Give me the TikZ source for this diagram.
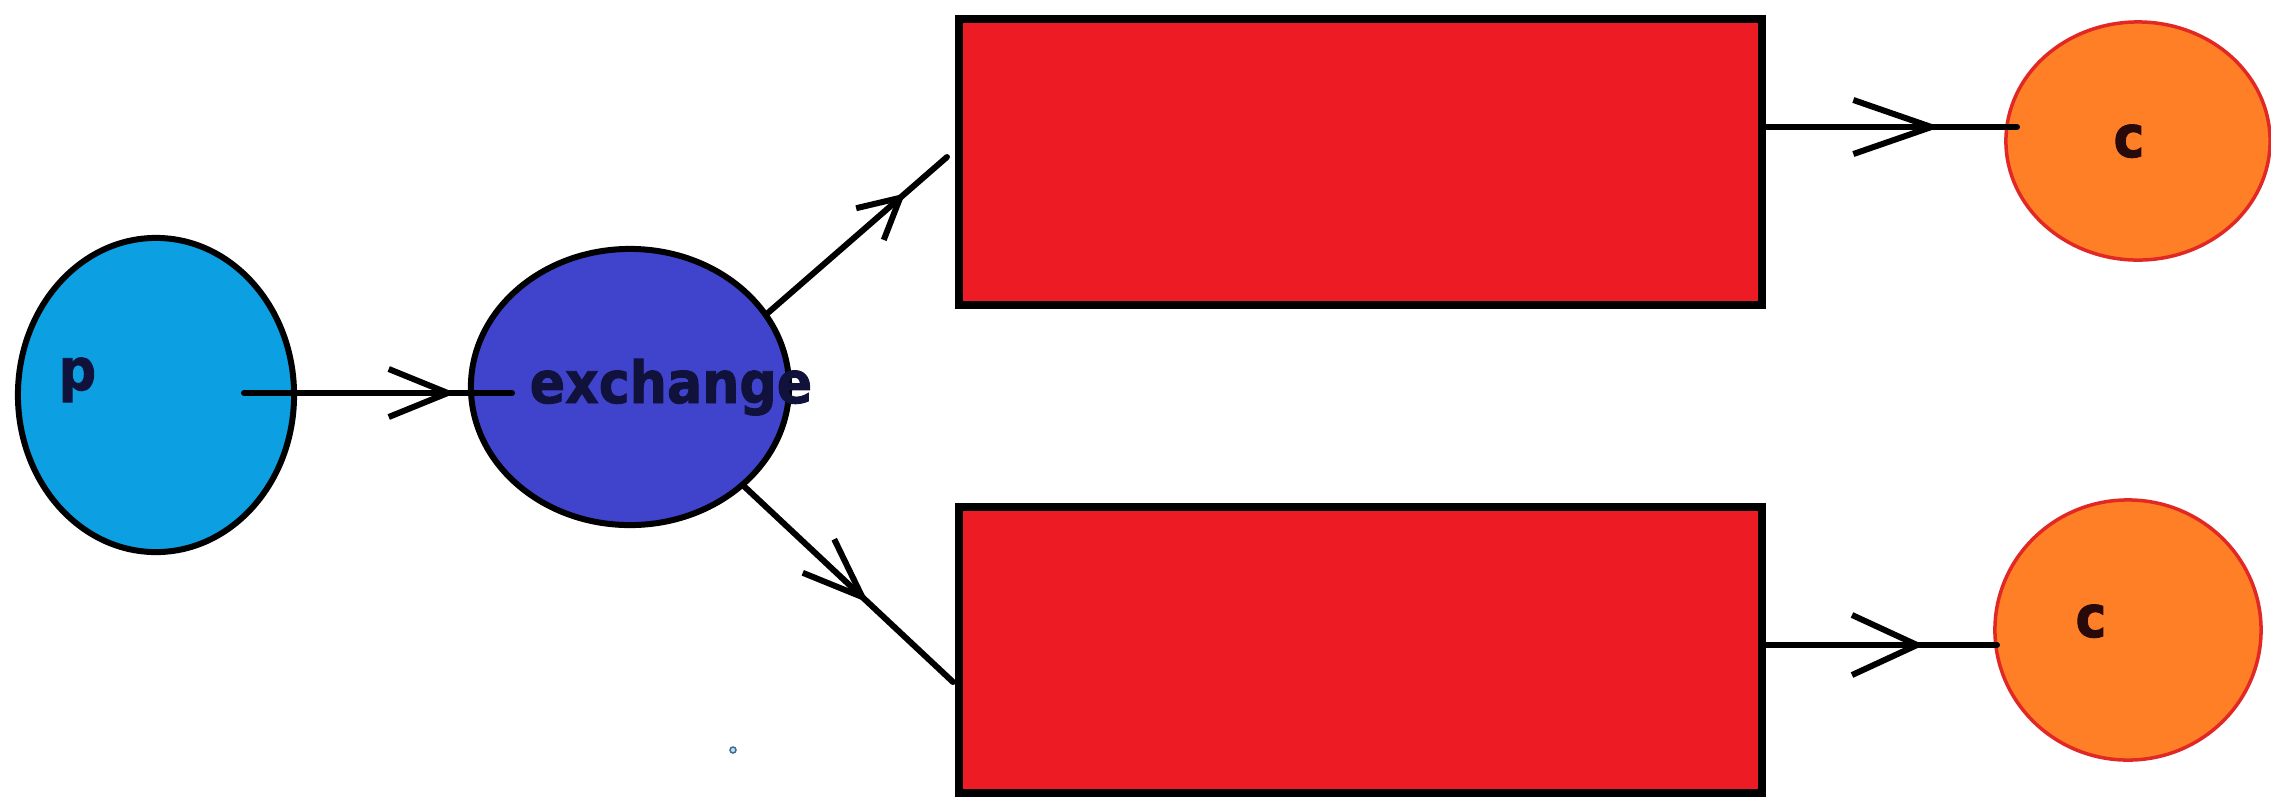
\documentclass[tikz,border=0pt]{standalone}
\usepackage{fontspec}
\setmainfont{DejaVu Sans}
\newfontfamily\lblfont[FakeStretch=0.9,FakeBold=1.6]{DejaVu Sans}
\usetikzlibrary{shapes.geometric,arrows.meta,decorations.markings}
\definecolor{pblue}{RGB}{12,160,226}
\definecolor{exblue}{RGB}{64,68,204}
\definecolor{qred}{RGB}{237,28,36}
\definecolor{corange}{RGB}{255,127,39}
\definecolor{cborder}{RGB}{226,40,36}
\definecolor{navytext}{RGB}{16,18,60}
\definecolor{ctext}{RGB}{40,10,10}
\definecolor{dotblue}{RGB}{60,110,150}
\definecolor{dotfill}{RGB}{190,225,240}
\begin{document}
\begin{tikzpicture}[x=0.01cm,y=-0.01cm,
  ell/.style={ellipse, inner sep=0pt, outer sep=0pt},
  lbl/.style={font=\lblfont\bfseries\fontsize{16.5}{19}\selectfont, inner sep=0pt},
  queuebox/.style={draw=black, line width=0.8mm, fill=qred, minimum width=8.03cm, minimum height=2.86cm, inner sep=0pt, outer sep=0pt},
  flow/.style n args={3}{draw=black, line width=0.6mm, line cap=round, postaction={decorate},
    decoration={markings, mark=at position #1 with {\arrow[line width=0.6mm, line cap=round, line join=round]{Straight Barb[length=#2,width=#3]}}}}
]
\useasboundingbox (0,0) rectangle (2271,796);
\fill[white] (0,0) rectangle (2271,796);

% shapes
\node[ell, draw=black, line width=0.6mm, fill=pblue, minimum width=2.76cm, minimum height=3.14cm] (p) at (156,395) {};
\node[ell, draw=black, line width=0.6mm, fill=exblue, minimum width=3.18cm, minimum height=2.76cm] (ex) at (630,387) {};
\node[queuebox] (q1) at (1360.5,162) {};
\node[queuebox] (q2) at (1360.5,650) {};
\node[ell, draw=cborder, line width=0.35mm, fill=corange, minimum width=2.64cm, minimum height=2.38cm] (c1) at (2138,141) {};
\node[ell, draw=cborder, line width=0.35mm, fill=corange, minimum width=2.66cm, minimum height=2.60cm] (c2) at (2128,630) {};
\node[circle, draw=dotblue, fill=dotfill, line width=0.15mm, inner sep=0pt, minimum size=0.6mm] (dot) at (733,750) {};

% connector end points
\coordinate (pa) at (244,393);
\coordinate (pb) at (512,393);
\coordinate (t1) at (947,157);
\coordinate (t2) at (953,682);
\coordinate (c1a) at (2017,127);
\coordinate (c2a) at (1997,645);

% connectors
\draw[flow={0.79}{5.9mm}{4.8mm}] (pa) -- (pb);
\draw[flow={0.77}{4mm}{4.2mm}] (ex.28) -- (t1);
\draw[flow={0.60}{6mm}{4.6mm}] (ex.-41) -- (t2);
\draw[flow={0.70}{7.8mm}{5.4mm}] (q1.east |- c1a) -- (c1a);
\draw[flow={0.69}{6.5mm}{6mm}] (q2.east |- c2a) -- (c2a);

% labels
\node[lbl, text=navytext, anchor=base west] (plbl) at (58,390) {p};
\node[lbl, text=navytext, anchor=base west] (exlbl) at (529,403) {exchange};
\node[lbl, text=ctext, anchor=base] (c1lbl) at (2129,157) {c};
\node[lbl, text=ctext, anchor=base] (c2lbl) at (2091,637) {c};
\end{tikzpicture}
\end{document}
